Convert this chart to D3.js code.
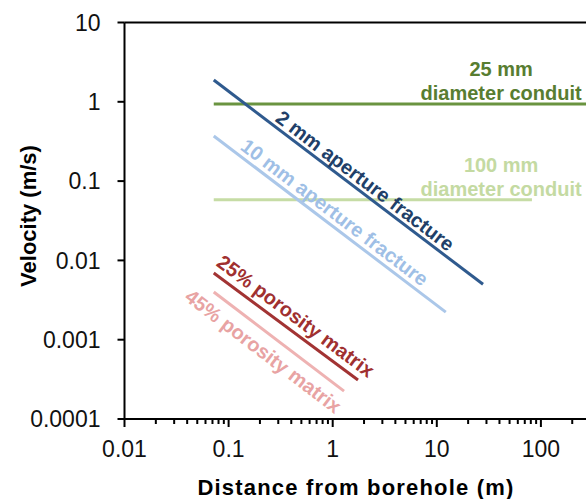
<!DOCTYPE html>
<html>
<head>
<meta charset="utf-8">
<script src="https://cdn.jsdelivr.net/npm/d3@7"></script>
<style>
  body { margin: 0; background: #fff; }
  svg { display: block; font-family: "Liberation Sans", Arial, sans-serif; }
</style>
</head>
<body>
<svg width="586" height="499"></svg>
<script>
// values (distance m, velocity m/s)
const fracture2mm  = [[0.072, 1.88],   [27.8, 0.0050]];
const fracture10mm = [[0.072, 0.371],  [12.2, 0.00223]];
const conduit25mm  = [[0.072, 0.94],   [1000, 0.94]];
const conduit100mm = [[0.072, 0.058],  [82, 0.058]];
const matrix25     = [[0.072, 0.00693],[1.75, 0.00031]];
const matrix45     = [[0.072, 0.0040], [1.285, 0.000225]];

const xMajor = [0.01, 0.1, 1, 10, 100];
const xTickLabels = ["0.01", "0.1", "1", "10", "100"];
const yMajor = [0.0001, 0.001, 0.01, 0.1, 1, 10];
const yTickLabels = ["0.0001", "0.001", "0.01", "0.1", "1", "10"];

var svg = d3.select("svg");

var x = d3.scaleLog().domain([0.01, 1000]).range([124.5, 124.5 + 5 * 104.1]);
var y = d3.scaleLog().domain([0.0001, 10]).range([419, 22.5]);

// top frame line
svg.append("line")
  .attr("x1", x(0.01)).attr("x2", 586)
  .attr("y1", y(10)).attr("y2", y(10))
  .attr("stroke", "#000").attr("stroke-width", 2);

// x axis with minor ticks
var minor = [];
[0.01, 0.1, 1, 10, 100].forEach(function(d) {
  for (var k = 2; k <= 9; k++) minor.push(d * k);
});
var gx = svg.append("g").attr("transform", "translate(0," + y(0.0001) + ")");
gx.append("line").attr("x1", x(0.01)).attr("x2", 586)
  .attr("stroke", "#000").attr("stroke-width", 2);
gx.selectAll(".mn").data(minor).enter().append("line")
  .attr("x1", d => x(d)).attr("x2", d => x(d))
  .attr("y1", 0).attr("y2", 5)
  .attr("stroke", "#000").attr("stroke-width", 2);
gx.selectAll(".mj").data(xMajor.concat([1000])).enter().append("line")
  .attr("x1", d => x(d)).attr("x2", d => x(d))
  .attr("y1", 0).attr("y2", 8)
  .attr("stroke", "#000").attr("stroke-width", 2);
gx.selectAll("text").data(xMajor).enter().append("text")
  .attr("x", d => x(d)).attr("y", 37.5)
  .attr("text-anchor", "middle")
  .attr("font-size", 23).attr("fill", "#111")
  .text((d, i) => xTickLabels[i]);

// y axis
var gy = svg.append("g").attr("transform", "translate(" + x(0.01) + ",0)");
gy.append("line").attr("y1", y(10)).attr("y2", y(0.0001))
  .attr("stroke", "#000").attr("stroke-width", 2);
gy.selectAll("line.t").data(yMajor).enter().append("line")
  .attr("class", "t")
  .attr("x1", -7).attr("x2", 0)
  .attr("y1", d => y(d)).attr("y2", d => y(d))
  .attr("stroke", "#000").attr("stroke-width", 2);
gy.selectAll("text").data(yMajor).enter().append("text")
  .attr("x", -24).attr("y", d => y(d)).attr("dy", "0.36em")
  .attr("text-anchor", "end")
  .attr("font-size", 23).attr("fill", "#111")
  .text((d, i) => yTickLabels[i]);

// axis titles
svg.append("text")
  .attr("x", 356).attr("y", 495)
  .attr("text-anchor", "middle")
  .attr("font-size", 22).attr("font-weight", "bold")
  .attr("letter-spacing", 1.2)
  .text("Distance from borehole (m)");
svg.append("text")
  .attr("transform", "translate(36,216) rotate(-90)")
  .attr("text-anchor", "middle")
  .attr("font-size", 22).attr("font-weight", "bold")
  .text("Velocity (m/s)");

// series lines
var line = d3.line().x(d => x(d[0])).y(d => y(d[1]));
var series = [
  { data: conduit25mm,  color: "#6a9440" },
  { data: conduit100mm, color: "#c6dca5" },
  { data: fracture10mm, color: "#abc7e9" },
  { data: fracture2mm,  color: "#2f5a8e" },
  { data: matrix45,     color: "#eeb2b2" },
  { data: matrix25,     color: "#a23333" }
];
svg.selectAll("path.s").data(series).enter().append("path")
  .attr("class", "s")
  .attr("d", d => line(d.data))
  .attr("fill", "none")
  .attr("stroke", d => d.color)
  .attr("stroke-width", 3);

// rotated labels along the sloped lines
function slopeLabel(pts, t, off, txt, color) {
  var x0 = x(pts[0][0]), y0 = y(pts[0][1]);
  var x1 = x(pts[1][0]), y1 = y(pts[1][1]);
  var len = Math.hypot(x1 - x0, y1 - y0);
  var ux = (x1 - x0) / len, uy = (y1 - y0) / len;
  var cx = x0 + ux * len * t + uy * off;
  var cy = y0 + uy * len * t - ux * off;
  var ang = Math.atan2(y1 - y0, x1 - x0) * 180 / Math.PI;
  svg.append("text")
    .attr("transform", "translate(" + cx + "," + cy + ") rotate(" + ang + ")")
    .attr("text-anchor", "middle").attr("dy", "0.36em")
    .attr("font-size", 20).attr("font-weight", "bold")
    .attr("fill", color)
    .text(txt);
}
slopeLabel(fracture2mm, 0.537, 11.5, "2 mm aperture fracture", "#213f68");
slopeLabel(fracture10mm, 0.489, 12.5, "10 mm aperture fracture", "#9fbfe6");
slopeLabel(matrix25, 0.51, 14.5, "25% porosity matrix", "#a03030");
slopeLabel(matrix45, 0.46, -17, "45% porosity matrix", "#e8a3a3");

// conduit labels
function conduitLabel(level, top, color) {
  var g = svg.append("g")
    .attr("text-anchor", "middle")
    .attr("font-size", 20).attr("font-weight", "bold")
    .attr("fill", color);
  g.append("text").attr("x", x(41.5)).attr("y", y(level) - 28).text(top);
  g.append("text").attr("x", x(41.5)).attr("y", y(level) - 4).text("diameter conduit");
}
conduitLabel(conduit25mm[0][1], "25 mm", "#587d31");
conduitLabel(conduit100mm[0][1], "100 mm", "#c4daa2");
</script>
</body>
</html>
